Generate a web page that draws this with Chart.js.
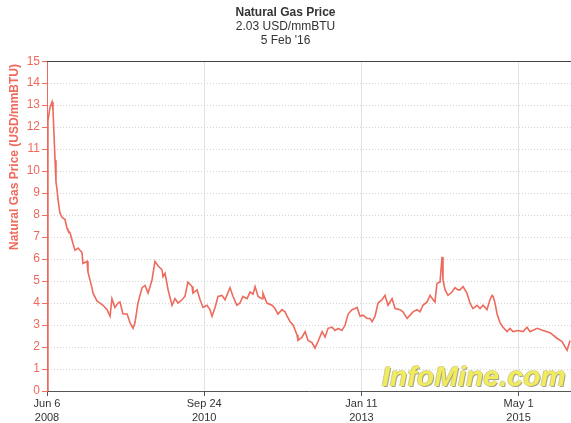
<!DOCTYPE html>
<html>
<head>
<meta charset="utf-8">
<script src="https://cdn.jsdelivr.net/npm/chart.js@4.4.1/dist/chart.umd.min.js"></script>
<style>
  html, body { margin: 0; padding: 0; background: #ffffff; }
  #wrap { position: relative; width: 571px; height: 423px; overflow: hidden; }
  #wm { position: absolute; left: 382px; top: 361px; font-family: "Liberation Sans", Arial, sans-serif;
        font-weight: bold; font-style: italic; font-size: 28px; color: #f2ec5a; letter-spacing: 0.3px;
        text-shadow: 1px 1px 0 #a8a68a, -1px 0 0 #cfcb98, 0 -1px 0 #dcd8a6; white-space: nowrap; }
</style>
</head>
<body>
<div id="wrap">
  <canvas id="c" width="571" height="423"></canvas>
  <div id="wm">InfoMine.com</div>
</div>
<script>
// Days since 6 Jun 2008
const days = [0,5,16,27,32,43,48,53,59,69,80,96,107,112,123,139,150,166,187,192,214,219,240,246,267,283,299,321,337,347,363,379,390,406,428,444,460,470,486,508,524,540,561,577,593,615,620,631,647,668,684,700,721,737,753,775,780,802,818,834,855,871,882,898,914,935,951,978,994,1015,1031,1047,1069,1085,1101,1112,1128,1149,1154,1175,1202,1218,1234,1256,1272,1283,1299,1315,1336,1341,1363,1379,1395,1416,1432,1448,1470,1486,1502,1523,1539,1555,1576,1593,1609,1630,1646,1657,1673,1689,1710,1726,1737,1753,1769,1790,1806,1822,1844,1860,1886,1902,1924,1940,1956,1977,1993,2009,2031,2047,2063,2073,2084,2100,2111,2116,2127,2143,2164,2180,2196,2207,2223,2244,2260,2276,2298,2314,2330,2351,2367,2378,2384,2394,2405,2421,2437,2458,2474,2490,2517,2544,2565,2581,2619,2651,2688,2725,2752,2779,2795];
// Price, USD/mmBTU
const prices = [0,12.3,12.9,13.15,12.8,10.5,9.5,9.2,8.7,8.1,7.9,7.8,7.4,7.3,7.2,6.7,6.4,6.5,6.3,5.8,5.9,5.4,4.7,4.45,4.1,4.0,3.9,3.7,3.4,4.2,3.8,4.0,4.05,3.5,3.5,3.1,2.85,3.1,4.0,4.7,4.8,4.45,5.05,5.9,5.7,5.5,5.2,5.35,4.6,3.9,4.2,4.0,4.15,4.3,4.95,4.75,4.45,4.6,4.15,3.8,3.9,3.7,3.4,3.8,4.3,4.35,4.15,4.7,4.3,3.9,4.0,4.3,4.2,4.5,4.4,4.75,4.3,4.2,4.45,4.0,3.9,3.75,3.5,3.7,3.6,3.4,3.15,3.0,2.55,2.3,2.45,2.7,2.3,2.2,1.95,2.25,2.7,2.45,2.85,2.9,2.75,2.85,2.75,3.0,3.5,3.7,3.75,3.8,3.4,3.45,3.3,3.3,3.15,3.4,4.0,4.15,4.35,3.9,4.2,3.75,3.7,3.6,3.3,3.45,3.6,3.7,3.6,3.9,4.05,4.35,4.15,4.05,4.9,4.95,6.1,5.05,4.6,4.35,4.5,4.7,4.6,4.6,4.75,4.45,4.0,3.75,3.9,3.75,3.9,3.7,4.15,4.35,4.3,4.0,3.5,3.1,2.9,2.7,2.85,2.7,2.75,2.7,2.9,2.7,2.85,2.75,2.65,2.4,2.25,1.85,2.3];

const xTickDays = [0, 840, 1680, 2520];
const xTickLabels = [["Jun 6","2008"],["Sep 24","2010"],["Jan 11","2013"],["May 1","2015"]];
const xMaxDay = 2800;
const yTicks = [0,1,2,3,4,5,6,7,8,9,10,11,12,13,14,15];

const titleText = "Natural Gas Price";
const subtitleLines = ["2.03 USD/mmBTU", "5 Feb '16"];
const yAxisTitle = "Natural Gas Price (USD/mmBTU)";

const RED = "#ee6a5c";
const FONT = "Liberation Sans, Arial, sans-serif";

const extras = {
  id: "extras",
  afterDraw(chart) {
    const a = chart.chartArea, ctx = chart.ctx;
    ctx.save();
    // top frame line
    ctx.strokeStyle = "#444";
    ctx.lineWidth = 1;
    ctx.beginPath();
    ctx.moveTo(a.left, Math.round(a.top) + 0.5);
    ctx.lineTo(a.right, Math.round(a.top) + 0.5);
    ctx.stroke();
    // y-axis title, placed as in the original (upper part of the axis)
    ctx.translate(15, 157);
    ctx.rotate(-Math.PI / 2);
    ctx.fillStyle = RED;
    ctx.font = "bold 12px " + FONT;
    ctx.textAlign = "center";
    ctx.textBaseline = "middle";
    ctx.fillText(yAxisTitle, 0, 0);
    ctx.restore();
  }
};

new Chart(document.getElementById("c"), {
  type: "line",
  data: {
    datasets: [{
      data: days.map((d, i) => ({ x: d, y: prices[i] })),
      borderColor: RED,
      borderWidth: 1.6,
      pointRadius: 0,
      tension: 0,
      fill: false
    }]
  },
  options: {
    responsive: false,
    animation: false,
    layout: { padding: { left: 0, right: 0, top: 0, bottom: 0 } },
    plugins: {
      legend: { display: false },
      tooltip: { enabled: false },
      title: {
        display: true, text: titleText, color: "#333",
        font: { family: FONT, size: 12, weight: "bold", lineHeight: 1.2 },
        padding: { top: 5, bottom: 0 }
      },
      subtitle: {
        display: true, text: subtitleLines, color: "#333",
        font: { family: FONT, size: 12, lineHeight: 1.2 },
        padding: { top: 0, bottom: 13 }
      }
    },
    scales: {
      x: {
        type: "linear", min: 0, max: xMaxDay,
        afterBuildTicks(scale) { scale.ticks = xTickDays.map(v => ({ value: v })); },
        afterFit(scale) { scale.height = 32; },
        ticks: {
          color: "#333", autoSkip: false, maxRotation: 0, padding: 1,
          font: { family: FONT, size: 11, lineHeight: 1.25 },
          callback(v) { const i = xTickDays.indexOf(v); return i >= 0 ? xTickLabels[i] : ""; }
        },
        grid: { color: "#e2e2e2", lineWidth: 1, tickColor: "#555", tickLength: 5, drawOnChartArea: true },
        border: { color: "#555", width: 1 }
      },
      y: {
        min: 0, max: 15,
        afterBuildTicks(scale) { scale.ticks = yTicks.map(v => ({ value: v })); },
        afterFit(scale) { scale.width = 47; },
        ticks: {
          color: RED, padding: 2,
          font: { family: FONT, size: 12 }
        },
        title: { display: false },
        grid: { color: "#d4d4d4", lineWidth: 1, tickColor: RED, tickLength: 5 },
        border: { color: RED, width: 1, dash: [1, 2] }
      }
    }
  },
  plugins: [extras]
});
</script>
</body>
</html>
